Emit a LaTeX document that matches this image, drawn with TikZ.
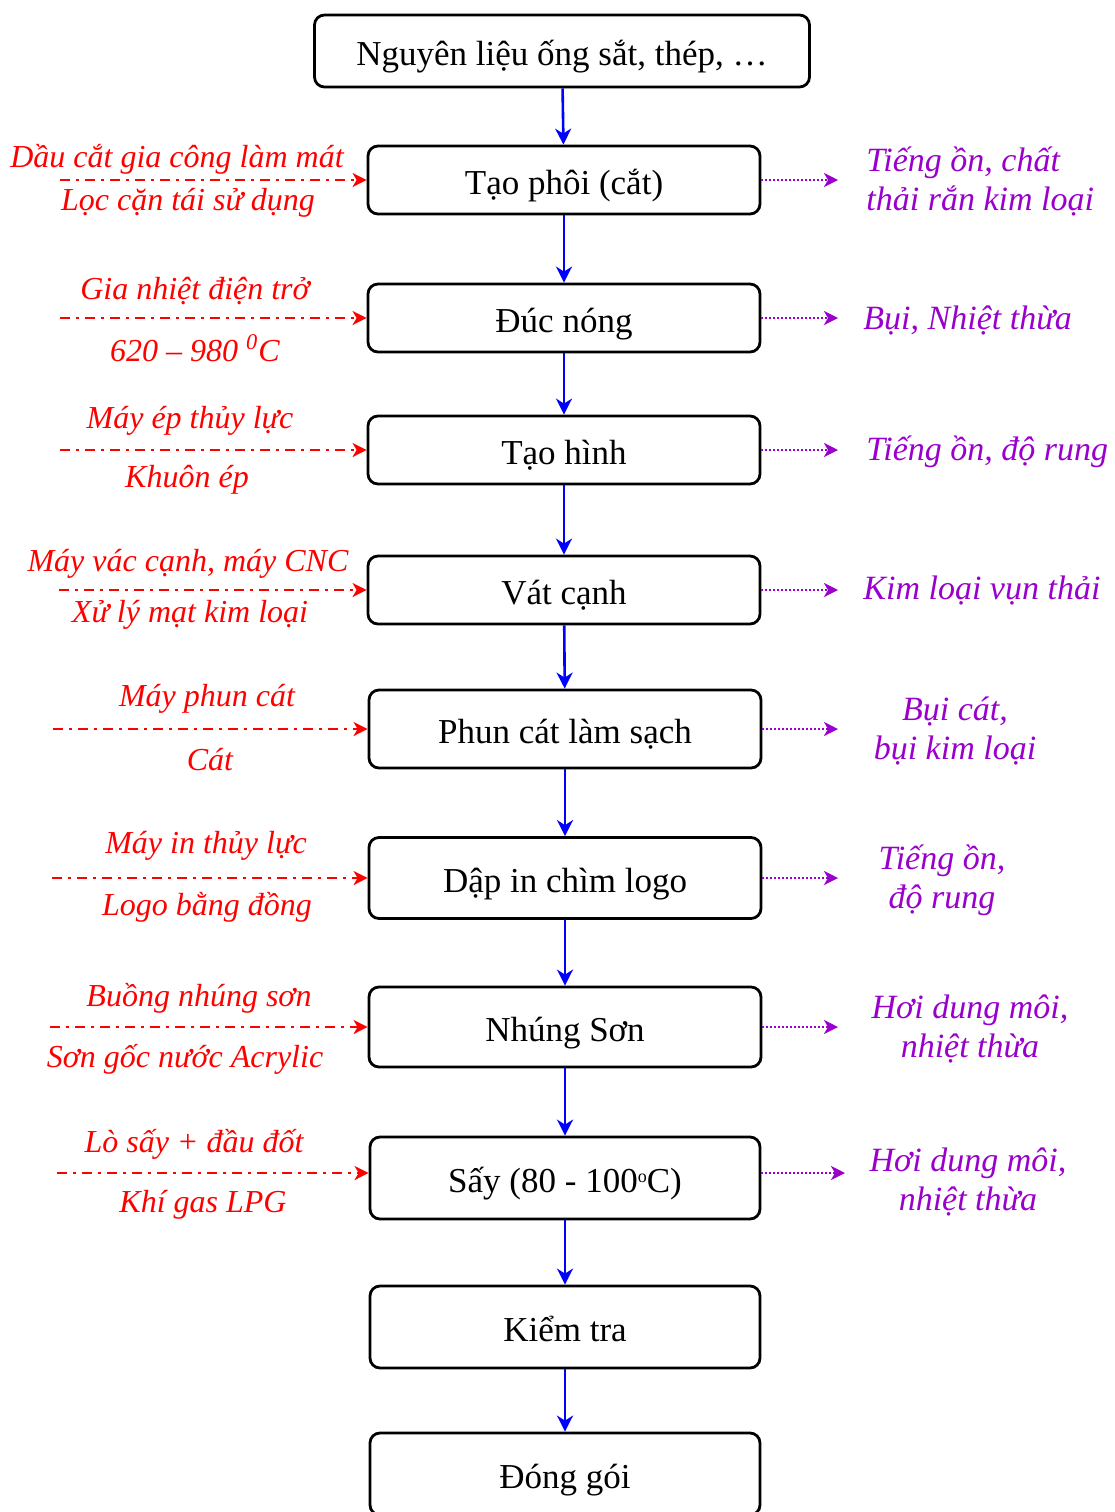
\documentclass[tikz,border=0pt]{standalone}
\usepackage{fontspec}
\setmainfont{Liberation Serif}
\usepackage{xcolor}
\usetikzlibrary{arrows.meta}
\definecolor{flowc}{HTML}{0000FF}
\definecolor{inc}{HTML}{FF0000}
\definecolor{outc}{HTML}{9900CC}
\tikzset{
  box/.style={draw,line width=1.4pt,rounded corners=5pt,minimum width=196pt,minimum height=34pt,align=center,text height=15pt,text depth=1pt,font=\fontsize{17.5}{20}\selectfont},
  ar/.style={-{Stealth[length=8pt,width=8pt,inset=2.5pt]},line width=1.3pt,flowc},
  inarr/.style={-{Stealth[length=7pt,width=7pt,inset=2pt]},line width=1.2pt,inc,dash pattern=on 5pt off 3pt on 1.5pt off 3pt},
  outarr/.style={-{Stealth[length=7pt,width=7pt,inset=2pt]},line width=1.2pt,outc,dash pattern=on 1pt off 1pt},
  inlab/.style={inner sep=0pt,inc,font=\fontsize{16}{19.5}\selectfont\itshape},
  outlab/.style={inner sep=0pt,outc,align=center,font=\fontsize{17}{19.5}\selectfont\itshape}
}
\begin{document}
\begin{tikzpicture}[x=0.5pt,y=-0.5pt]
\useasboundingbox (0,0) rectangle (1115,1512);
% main chain
\node[box,minimum width=247.5pt,minimum height=36pt] (nguyen) at (562,51) {Nguyên liệu ống sắt, thép, …};
\node[box] (tao) at (564,180) {Tạo phôi (cắt)};
\node[box] (duc) at (564,318) {Đúc nóng};
\node[box] (hinh) at (564,450) {Tạo hình};
\node[box] (vat) at (564,590) {Vát cạnh};
\node[box,minimum height=39pt] (phun) at (565,729) {Phun cát làm sạch};
\node[box,minimum height=40.5pt] (dap) at (565,878) {Dập in chìm logo};
\node[box,minimum height=40pt] (nhung) at (565,1027) {Nhúng Sơn};
\node[box,minimum width=195pt,minimum height=41pt] (say) at (565,1178) {Sấy (80 - 100\raisebox{5pt}{\fontsize{9}{9}\selectfont o}C)};
\node[box,minimum width=195pt,minimum height=41pt] (kiem) at (565,1327) {Kiểm tra};
\node[box,minimum width=195pt,minimum height=41pt] (dong) at (565,1474) {Đóng gói};
\foreach \a/\b in {nguyen/tao,tao/duc,duc/hinh,hinh/vat,vat/phun,phun/dap,dap/nhung,nhung/say,say/kiem,kiem/dong}
  \draw[ar] (\a) -- (\b);
% inputs
\coordinate (i1) at (60,180);
\coordinate (i2) at (60,318);
\coordinate (i3) at (60,450);
\coordinate (i4) at (59,590);
\coordinate (i5) at (53,729);
\coordinate (i6) at (52,878);
\coordinate (i7) at (50,1027);
\coordinate (i8) at (57,1173);
\draw[inarr] (i1) -- (tao.west);
\draw[inarr] (i2) -- (duc.west);
\draw[inarr] (i3) -- (hinh.west);
\draw[inarr] (i4) -- (vat.west);
\draw[inarr] (i5) -- (phun.west);
\draw[inarr] (i6) -- (dap.west);
\draw[inarr] (i7) -- (nhung.west);
\draw[inarr] (i8) -- (say.west |- i8);
\node[inlab] (ia1) at (177,159) {Dầu cắt gia công làm mát};
\node[inlab] (ib1) at (188,203) {Lọc cặn tái sử dụng};
\node[inlab] (ia2) at (195,291) {Gia nhiệt điện trở};
\node[inlab] (ib2) at (195,348) {620 – 980 \textsuperscript{0}C};
\node[inlab] (ia3) at (190,421) {Máy ép thủy lực};
\node[inlab] (ib3) at (187,480) {Khuôn ép};
\node[inlab] (ia4) at (188,564) {Máy vác cạnh, máy CNC};
\node[inlab] (ib4) at (190,615) {Xử lý mạt kim loại};
\node[inlab] (ia5) at (207,699) {Máy phun cát};
\node[inlab] (ib5) at (210,760) {Cát};
\node[inlab] (ia6) at (206,846) {Máy in thủy lực};
\node[inlab] (ib6) at (207,907) {Logo bằng đồng};
\node[inlab] (ia7) at (199,998) {Buồng nhúng sơn};
\node[inlab] (ib7) at (185,1059) {Sơn gốc nước Acrylic};
\node[inlab] (ia8) at (194,1144) {Lò sấy + đầu đốt};
\node[inlab] (ib8) at (203,1205) {Khí gas LPG};
% outputs
\coordinate (o1) at (838,180);
\coordinate (o2) at (838,318);
\coordinate (o3) at (838,450);
\coordinate (o4) at (838,590);
\coordinate (o5) at (838,729);
\coordinate (o6) at (838,878);
\coordinate (o7) at (838,1027);
\coordinate (o8) at (845,1173);
\draw[outarr] (tao.east) -- (o1);
\draw[outarr] (duc.east) -- (o2);
\draw[outarr] (hinh.east) -- (o3);
\draw[outarr] (vat.east) -- (o4);
\draw[outarr] (phun.east) -- (o5);
\draw[outarr] (dap.east) -- (o6);
\draw[outarr] (nhung.east) -- (o7);
\draw[outarr] (say.east |- o8) -- (o8);
\node[outlab,anchor=west,align=left] (oa1) at (866,181) {Tiếng ồn, chất\\thải rắn kim loại};
\node[outlab,anchor=west] (oa2) at (863,320) {Bụi, Nhiệt thừa};
\node[outlab,anchor=west] (oa3) at (866,452) {Tiếng ồn, độ rung};
\node[outlab,anchor=west] (oa4) at (863,591) {Kim loại vụn thải};
\node[outlab] (oa5) at (955,731) {Bụi cát,\\bụi kim loại};
\node[outlab] (oa6) at (942,880) {Tiếng ồn,\\độ rung};
\node[outlab] (oa7) at (970,1029) {Hơi dung môi,\\nhiệt thừa};
\node[outlab] (oa8) at (968,1182) {Hơi dung môi,\\nhiệt thừa};
\end{tikzpicture}
\end{document}
